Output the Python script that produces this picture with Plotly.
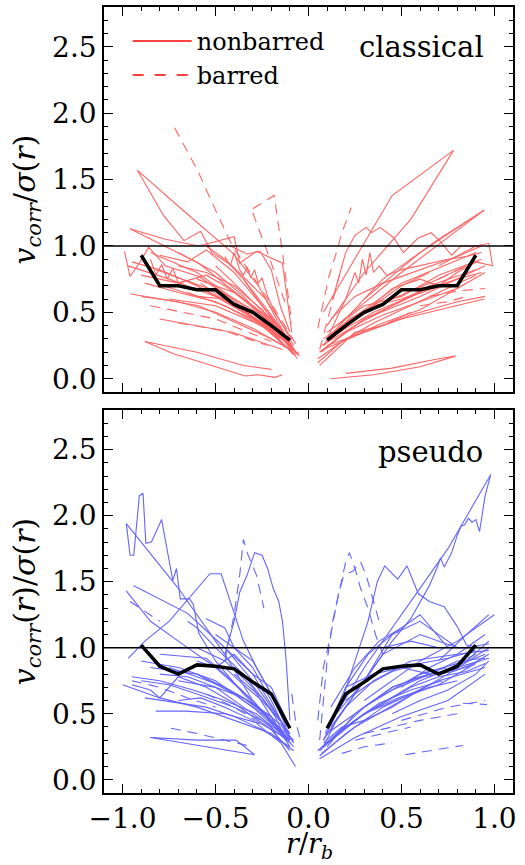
import plotly.graph_objects as go

FONT = "DejaVu Serif"
CL_COLOR = "#ff6464"
PS_COLOR = "#6464ff"

# ---------------- data ----------------
median_r = [0.1, 0.2, 0.3, 0.4, 0.5, 0.6, 0.7, 0.8, 0.9]
classical_median = [0.29, 0.40, 0.50, 0.56, 0.67, 0.67, 0.70, 0.70, 0.93]
pseudo_median = [0.39, 0.65, 0.74, 0.84, 0.86, 0.87, 0.80, 0.86, 1.02]

classical_neg_solid = [
    ([-0.92, -0.78, -0.67, -0.58, -0.52, -0.41, -0.23, -0.09], [1.57, 1.23, 1.04, 1.11, 0.95, 0.85, 0.60, 0.30]),
    ([-0.92, -0.66, -0.41, -0.27, -0.07], [1.57, 1.25, 0.95, 0.70, 0.19]),
    ([-0.96, -0.77, -0.59, -0.40, -0.37, -0.28, -0.14, -0.09], [1.13, 1.05, 1.00, 1.07, 0.87, 0.96, 0.87, 0.35]),
    ([-0.96, -0.59, -0.23, -0.05], [1.13, 0.87, 0.47, 0.17]),
    ([-0.99, -0.96, -0.91, -0.86, -0.77, -0.59, -0.41, -0.12], [0.96, 0.77, 0.87, 0.99, 0.85, 0.77, 0.60, 0.24]),
    ([-0.96, -0.59, -0.23, -0.05], [0.64, 0.55, 0.32, 0.19]),
    ([-0.80, -0.41, -0.14], [0.45, 0.35, 0.22]),
    ([-0.88, -0.73, -0.59, -0.45, -0.34, -0.27, -0.18, -0.14], [0.28, 0.19, 0.13, 0.07, 0.02, 0.03, 0.01, 0.03]),
    ([-0.88, -0.60, -0.35, -0.20], [0.28, 0.20, 0.10, 0.07]),
    ([-0.85, -0.60, -0.30, -0.08], [0.95, 0.80, 0.50, 0.22]),
    ([-0.85, -0.82, -0.79, -0.76, -0.73, -0.70, -0.65, -0.55, -0.40, -0.20, -0.07], [0.90, 0.78, 0.86, 0.75, 0.83, 0.72, 0.74, 0.66, 0.55, 0.38, 0.20]),
    ([-0.90, -0.70, -0.50, -0.30, -0.10], [0.62, 0.58, 0.50, 0.38, 0.22]),
    ([-0.75, -0.50, -0.30, -0.12], [0.60, 0.55, 0.43, 0.30]),
    ([-0.70, -0.50, -0.35, -0.10], [0.95, 0.80, 0.62, 0.25]),
    ([-0.45, -0.42, -0.40, -0.37, -0.35, -0.33, -0.31, -0.29, -0.27, -0.25, -0.22, -0.18, -0.13, -0.08], [0.92, 0.85, 0.95, 0.82, 0.78, 0.84, 0.76, 0.82, 0.72, 0.76, 0.62, 0.50, 0.38, 0.25]),
    ([-0.78, -0.60, -0.45, -0.30, -0.15], [0.70, 0.62, 0.60, 0.50, 0.30]),
    ([-0.65, -0.45, -0.25, -0.07], [0.65, 0.55, 0.40, 0.18]),
    ([-0.60, -0.40, -0.20, -0.06], [0.75, 0.65, 0.42, 0.15]),
    ([-0.90, -0.70, -0.55, -0.45, -0.20, -0.07], [0.78, 0.72, 0.78, 0.70, 0.45, 0.20]),
    ([-0.80, -0.65, -0.55, -0.40, -0.25, -0.10], [0.93, 0.88, 0.97, 0.80, 0.55, 0.28]),
    ([-0.55, -0.45, -0.35, -0.25, -0.15, -0.08], [1.00, 0.90, 0.75, 0.55, 0.38, 0.22]),
    ([-0.42, -0.33, -0.26, -0.20, -0.15, -0.10], [1.00, 0.94, 0.96, 0.82, 0.54, 0.35]),
    ([-0.97, -0.75, -0.50, -0.25, -0.09], [0.85, 0.75, 0.62, 0.42, 0.25]),
    ([-0.70, -0.55, -0.40, -0.25, -0.12], [0.85, 0.80, 0.70, 0.52, 0.30]),
    ([-0.88, -0.70, -0.50, -0.30, -0.12], [0.72, 0.65, 0.58, 0.45, 0.28]),
    ([-0.82, -0.62, -0.42, -0.22, -0.08], [0.82, 0.72, 0.62, 0.45, 0.22]),
    ([-0.95, -0.80, -0.60, -0.40, -0.20, -0.08], [0.88, 0.82, 0.70, 0.55, 0.36, 0.18]),
    ([-0.58, -0.48, -0.38, -0.28, -0.18, -0.09], [0.72, 0.62, 0.55, 0.45, 0.32, 0.20]),
    ([-0.50, -0.40, -0.30, -0.20, -0.10], [0.85, 0.72, 0.58, 0.45, 0.25]),
    ([-0.35, -0.28, -0.20, -0.12, -0.06], [0.75, 0.62, 0.48, 0.32, 0.18]),
]
classical_neg_dashed = [
    ([-0.72, -0.59, -0.52, -0.41, -0.30, -0.18, -0.05], [1.89, 1.55, 1.33, 1.00, 0.77, 0.52, 0.22]),
    ([-0.30, -0.185, -0.14, -0.09], [1.28, 1.38, 0.95, 0.42]),
    ([-0.30, -0.22, -0.12], [1.25, 0.95, 0.55]),
    ([-0.85, -0.50, -0.20], [0.55, 0.45, 0.28]),
    ([-0.70, -0.45, -0.22], [0.42, 0.36, 0.25]),
]
classical_pos_solid = [
    ([0.08, 0.45, 0.78], [0.50, 1.38, 1.72]),
    ([0.78, 0.55, 0.30, 0.10], [1.72, 1.20, 0.80, 0.40]),
    ([0.13, 0.20, 0.25, 0.31, 0.34, 0.385, 0.46, 0.51, 0.59, 0.66, 0.71, 0.77, 0.82, 0.91], [0.60, 0.95, 1.08, 1.14, 1.10, 1.14, 1.06, 0.95, 1.06, 1.10, 1.03, 0.93, 1.00, 1.00]),
    ([0.10, 0.40, 0.70, 0.945], [0.30, 0.75, 1.05, 1.27]),
    ([0.15, 0.50, 0.945], [0.40, 0.80, 1.27]),
    ([0.30, 0.60, 0.945], [0.60, 0.95, 1.27]),
    ([0.10, 0.50, 0.945], [0.25, 0.45, 0.60]),
    ([0.12, 0.35, 0.60, 0.79], [0.00, 0.03, 0.09, 0.17]),
    ([0.20, 0.45, 0.70, 0.79], [0.04, 0.08, 0.15, 0.17]),
    ([0.08, 0.50, 0.90], [0.30, 0.72, 0.95]),
    ([0.06, 0.30, 0.60, 0.95], [0.20, 0.45, 0.62, 0.85]),
    ([0.10, 0.20, 0.25, 0.27, 0.29, 0.31, 0.33, 0.35, 0.38, 0.42, 0.50, 0.60, 0.75, 0.85, 0.93], [0.30, 0.60, 0.80, 0.72, 0.90, 0.78, 0.95, 0.80, 0.85, 0.78, 0.82, 0.85, 0.90, 0.92, 0.95]),
    ([0.70, 0.90, 0.97, 0.99, 0.90, 0.80], [0.85, 1.00, 1.02, 0.85, 0.88, 0.80]),
    ([0.07, 0.25, 0.45, 0.65, 0.90], [0.25, 0.40, 0.55, 0.70, 0.82]),
    ([0.08, 0.30, 0.55, 0.80, 0.95], [0.22, 0.35, 0.48, 0.58, 0.62]),
    ([0.09, 0.20, 0.35, 0.55, 0.75], [0.28, 0.38, 0.50, 0.62, 0.72]),
    ([0.05, 0.20, 0.40, 0.60, 0.85], [0.15, 0.30, 0.42, 0.52, 0.72]),
    ([0.10, 0.30, 0.50, 0.70, 0.93], [0.35, 0.55, 0.62, 0.78, 0.90]),
    ([0.15, 0.30, 0.45, 0.60, 0.70, 0.80], [0.35, 0.50, 0.68, 0.75, 0.70, 0.80]),
    ([0.06, 0.15, 0.25, 0.40, 0.55], [0.10, 0.22, 0.35, 0.40, 0.50]),
    ([0.12, 0.25, 0.40, 0.60, 0.80, 0.93], [0.45, 0.62, 0.72, 0.82, 0.92, 1.00]),
    ([0.35, 0.50, 0.65, 0.80, 0.93], [0.55, 0.60, 0.68, 0.75, 0.80]),
    ([0.06, 0.20, 0.40, 0.60, 0.80, 0.95], [0.20, 0.35, 0.48, 0.58, 0.68, 0.80]),
    ([0.08, 0.25, 0.45, 0.65, 0.85], [0.25, 0.45, 0.60, 0.72, 0.85]),
    ([0.07, 0.15, 0.30, 0.45, 0.60], [0.20, 0.30, 0.45, 0.55, 0.65]),
    ([0.05, 0.18, 0.35, 0.50, 0.70, 0.90], [0.12, 0.28, 0.42, 0.52, 0.65, 0.78]),
    ([0.10, 0.22, 0.35, 0.50, 0.65], [0.30, 0.45, 0.55, 0.70, 0.80]),
]
classical_pos_dashed = [
    ([0.05, 0.11, 0.15, 0.18, 0.23], [0.38, 0.77, 0.95, 1.10, 1.29]),
    ([0.06, 0.14, 0.18], [0.22, 0.65, 0.85]),
    ([0.65, 0.80, 0.95], [0.62, 0.66, 0.68]),
    ([0.70, 0.85, 0.95], [0.75, 0.85, 0.90]),
    ([0.60, 0.75, 0.85], [0.55, 0.58, 0.62]),
]

pseudo_neg_solid = [
    ([-0.98, -0.96, -0.94, -0.91, -0.89, -0.875, -0.845, -0.79, -0.755, -0.73, -0.71, -0.69, -0.64, -0.62, -0.59, -0.50, -0.35, -0.20, -0.08],
     [1.94, 1.70, 1.70, 2.15, 2.17, 1.79, 1.80, 1.97, 1.70, 1.51, 1.60, 1.37, 1.37, 1.33, 1.11, 0.90, 0.65, 0.45, 0.25]),
    ([-0.98, -0.70, -0.60, -0.45, -0.30, -0.12], [1.94, 1.45, 1.25, 0.95, 0.60, 0.30]),
    ([-0.98, -0.85, -0.70, -0.50, -0.30, -0.10], [1.43, 1.20, 1.05, 0.85, 0.60, 0.30]),
    ([-0.94, -0.65, -0.45, -0.30, -0.10], [1.47, 1.26, 1.00, 0.75, 0.35]),
    ([-0.97, -0.88, -0.75, -0.53, -0.47, -0.39, -0.35, -0.28, -0.18, -0.10], [0.92, 1.05, 1.20, 1.56, 1.56, 1.23, 1.05, 0.85, 0.60, 0.40]),
    ([-0.45, -0.40, -0.37, -0.33, -0.29, -0.25, -0.22, -0.19, -0.16, -0.14, -0.12, -0.10], [0.95, 1.20, 1.42, 1.55, 1.72, 1.70, 1.60, 1.45, 1.35, 1.20, 0.90, 0.45]),
    ([-1.00, -0.80, -0.60, -0.40, -0.20, -0.08], [0.72, 0.62, 0.55, 0.45, 0.35, 0.22]),
    ([-0.82, -0.66, -0.45, -0.25, -0.10], [0.52, 0.52, 0.50, 0.42, 0.30]),
    ([-0.85, -0.60, -0.39, -0.29, -0.55, -0.85], [0.32, 0.30, 0.30, 0.19, 0.25, 0.32]),
    ([-0.90, -0.70, -0.50, -0.30, -0.10], [0.90, 0.85, 0.75, 0.55, 0.30]),
    ([-0.85, -0.60, -0.40, -0.20, -0.08], [0.85, 0.80, 0.65, 0.45, 0.30]),
    ([-0.80, -0.55, -0.45, -0.30, -0.15], [0.95, 0.92, 0.80, 0.60, 0.35]),
    ([-0.75, -0.60, -0.45, -0.30, -0.10], [1.00, 1.00, 0.90, 0.70, 0.25]),
    ([-0.65, -0.60, -0.50, -0.35, -0.10], [1.20, 1.15, 1.00, 0.80, 0.35]),
    ([-0.70, -0.50, -0.35, -0.20, -0.07], [0.75, 0.70, 0.55, 0.40, 0.10]),
    ([-0.95, -0.85, -0.80, -0.70, -0.55, -0.40, -0.20, -0.10], [0.72, 0.68, 0.62, 0.78, 0.70, 0.58, 0.38, 0.22]),
    ([-0.60, -0.50, -0.40, -0.30, -0.20, -0.15, -0.10], [0.90, 0.85, 0.95, 0.80, 0.70, 0.55, 0.40]),
    ([-0.50, -0.40, -0.30, -0.20, -0.12], [1.10, 1.00, 0.90, 0.65, 0.40]),
    ([-0.85, -0.60, -0.45, -0.30, -0.15], [1.00, 1.00, 1.00, 0.80, 0.45]),
    ([-0.55, -0.45, -0.40, -0.30, -0.20, -0.10], [1.22, 1.15, 1.00, 0.85, 0.60, 0.30]),
    ([-0.90, -0.75, -0.60, -0.40, -0.25, -0.10], [0.75, 0.72, 0.65, 0.55, 0.45, 0.28]),
    ([-0.80, -0.65, -0.50, -0.35, -0.20, -0.12], [0.80, 0.78, 0.70, 0.62, 0.48, 0.30]),
    ([-0.40, -0.32, -0.25, -0.18, -0.12], [0.80, 0.70, 0.62, 0.48, 0.30]),
    ([-0.70, -0.58, -0.45, -0.30, -0.15], [0.60, 0.62, 0.55, 0.45, 0.28]),
    ([-0.88, -0.70, -0.55, -0.40, -0.25, -0.10], [0.62, 0.58, 0.55, 0.48, 0.38, 0.25]),
    ([-0.75, -0.60, -0.45, -0.30, -0.15, -0.08], [0.85, 0.78, 0.70, 0.58, 0.42, 0.28]),
    ([-0.60, -0.48, -0.35, -0.22, -0.10], [0.80, 0.72, 0.62, 0.48, 0.30]),
    ([-0.45, -0.35, -0.25, -0.15, -0.08], [0.85, 0.72, 0.60, 0.45, 0.28]),
    ([-0.95, -0.80, -0.62, -0.45, -0.28, -0.12], [0.78, 0.75, 0.68, 0.60, 0.50, 0.32]),
]
pseudo_neg_dashed = [
    ([-0.45, -0.40, -0.37, -0.35, -0.33, -0.28, -0.24], [0.90, 1.25, 1.55, 1.82, 1.72, 1.55, 1.30]),
    ([-0.09, -0.07, -0.04], [0.65, 0.45, 0.28]),
    ([-0.74, -0.60, -0.45, -0.30], [0.39, 0.35, 0.30, 0.25]),
    ([-0.95, -0.80, -0.65, -0.50], [0.75, 0.70, 0.62, 0.55]),
    ([-0.96, -0.80], [1.35, 1.20]),
    ([-0.55, -0.40, -0.25], [0.65, 0.55, 0.42]),
]
pseudo_pos_solid = [
    ([0.08, 0.15, 0.25, 0.35, 0.45, 0.55, 0.60, 0.65, 0.69, 0.71, 0.73, 0.77, 0.80, 0.82, 0.84, 0.86, 0.88, 0.90, 0.92, 0.95, 0.98],
     [0.25, 0.45, 0.65, 0.85, 1.05, 1.22, 1.35, 1.47, 1.60, 1.68, 1.61, 1.72, 1.85, 1.92, 1.93, 1.98, 1.95, 1.97, 1.88, 2.15, 2.31]),
    ([0.08, 0.15, 0.30, 0.50, 0.75, 0.98], [0.30, 0.50, 0.85, 1.25, 1.75, 2.31]),
    ([0.18, 0.25, 0.32, 0.37, 0.41, 0.48, 0.53, 0.59, 0.65, 0.73, 0.80, 0.85, 0.93], [0.60, 0.90, 1.20, 1.50, 1.62, 1.52, 1.62, 1.41, 1.35, 1.31, 1.16, 1.02, 1.00]),
    ([0.30, 0.60, 0.80, 1.00], [0.60, 0.90, 1.05, 1.25]),
    ([0.08, 0.30, 0.60, 0.95], [0.25, 0.50, 0.75, 0.95]),
    ([0.07, 0.25, 0.50, 0.75, 0.97], [0.20, 0.40, 0.60, 0.80, 1.00]),
    ([0.10, 0.35, 0.60, 0.85, 0.97], [0.35, 0.60, 0.80, 0.90, 1.05]),
    ([0.06, 0.20, 0.40, 0.70, 0.95], [0.18, 0.35, 0.55, 0.75, 0.85]),
    ([0.08, 0.20, 0.35, 0.55, 0.80, 0.97], [0.30, 0.55, 0.75, 0.90, 0.95, 0.98]),
    ([0.12, 0.25, 0.40, 0.60, 0.80], [0.40, 0.65, 0.95, 1.10, 1.00]),
    ([0.15, 0.30, 0.45, 0.60, 0.80, 0.95], [0.50, 0.75, 1.10, 1.20, 1.00, 1.00]),
    ([0.05, 0.15, 0.30, 0.50, 0.70, 0.90], [0.22, 0.35, 0.50, 0.62, 0.72, 0.88]),
    ([0.10, 0.25, 0.45, 0.65, 0.85, 0.97], [0.25, 0.50, 0.70, 0.80, 0.85, 0.95]),
    ([0.09, 0.20, 0.32, 0.45, 0.60, 0.75], [0.35, 0.70, 0.95, 1.10, 1.25, 1.00]),
    ([0.20, 0.35, 0.50, 0.65, 0.80, 0.95], [0.70, 0.80, 0.85, 0.80, 0.90, 0.92]),
    ([0.08, 0.18, 0.30, 0.45, 0.62], [0.28, 0.40, 0.45, 0.55, 0.70]),
    ([0.06, 0.25, 0.50, 0.75, 0.95], [0.16, 0.32, 0.48, 0.60, 0.80]),
    ([0.40, 0.55, 0.70, 0.85, 0.97], [1.00, 1.05, 1.00, 1.00, 1.03]),
    ([0.12, 0.25, 0.38, 0.50], [0.55, 0.85, 1.05, 1.15]),
    ([0.30, 0.45, 0.60, 0.80, 0.97], [0.55, 0.70, 0.78, 0.85, 0.92]),
    ([0.45, 0.60, 0.75, 0.90, 0.97], [0.50, 0.60, 0.68, 0.80, 0.90]),
    ([0.70, 0.85, 0.97], [0.90, 1.10, 1.25]),
    ([0.50, 0.65, 0.80, 0.95], [0.70, 0.85, 0.95, 1.10]),
    ([0.10, 0.25, 0.40, 0.55, 0.70, 0.85, 0.95], [0.28, 0.45, 0.58, 0.70, 0.78, 0.82, 0.88]),
    ([0.06, 0.18, 0.32, 0.48, 0.65, 0.80], [0.22, 0.38, 0.52, 0.62, 0.70, 0.75]),
    ([0.15, 0.30, 0.45, 0.62, 0.78, 0.92], [0.35, 0.55, 0.68, 0.78, 0.82, 0.90]),
    ([0.08, 0.22, 0.38, 0.55, 0.72], [0.25, 0.42, 0.58, 0.68, 0.75]),
    ([0.20, 0.32, 0.45, 0.60, 0.75, 0.90], [0.60, 0.72, 0.82, 0.88, 0.92, 0.98]),
]
pseudo_pos_dashed = [
    ([0.06, 0.08, 0.10, 0.13, 0.17, 0.20, 0.22, 0.25, 0.28, 0.32, 0.36, 0.40], [0.30, 0.60, 0.90, 1.20, 1.45, 1.65, 1.72, 1.60, 1.45, 1.30, 1.10, 0.95]),
    ([0.05, 0.08, 0.12, 0.16, 0.19, 0.24, 0.28, 0.31, 0.34, 0.38], [0.45, 0.85, 1.10, 1.40, 1.55, 1.58, 1.65, 1.55, 1.40, 1.20]),
    ([0.50, 0.75, 0.95], [0.45, 0.55, 0.60]),
    ([0.30, 0.60, 0.80], [0.35, 0.45, 0.50]),
    ([0.52, 0.65, 0.83], [0.19, 0.22, 0.26]),
    ([0.18, 0.30, 0.45], [0.20, 0.25, 0.28]),
    ([0.83, 0.96], [0.58, 0.57]),
    ([0.25, 0.40, 0.55], [0.30, 0.35, 0.40]),
    ([0.60, 0.75, 0.90], [0.80, 0.85, 0.95]),
]

x_tickvals = [-1.0, -0.5, 0.0, 0.5, 1.0]
x_ticktext = ["\u22121.0", "\u22120.5", "0.0", "0.5", "1.0"]
y_tickvals = [0.0, 0.5, 1.0, 1.5, 2.0, 2.5]

# ---------------- figure ----------------
fig = go.Figure()
DASH = "10px,7px"


def add_lines(lines, color, dash, xa, ya):
    for xs, ys in lines:
        fig.add_trace(go.Scatter(x=xs, y=ys, mode="lines", xaxis=xa, yaxis=ya,
                                 line=dict(color=color, width=1.1, dash=dash),
                                 showlegend=False, hoverinfo="skip"))


add_lines(classical_neg_solid, CL_COLOR, "solid", "x", "y")
add_lines(classical_pos_solid, CL_COLOR, "solid", "x", "y")
add_lines(classical_neg_dashed, CL_COLOR, DASH, "x", "y")
add_lines(classical_pos_dashed, CL_COLOR, DASH, "x", "y")
add_lines(pseudo_neg_solid, PS_COLOR, "solid", "x2", "y2")
add_lines(pseudo_pos_solid, PS_COLOR, "solid", "x2", "y2")
add_lines(pseudo_neg_dashed, PS_COLOR, DASH, "x2", "y2")
add_lines(pseudo_pos_dashed, PS_COLOR, DASH, "x2", "y2")

neg_r = [-r for r in reversed(median_r)]
for med, xa, ya in [(classical_median, "x", "y"), (pseudo_median, "x2", "y2")]:
    fig.add_trace(go.Scatter(x=neg_r, y=list(reversed(med)), mode="lines", xaxis=xa, yaxis=ya,
                             line=dict(color="black", width=3.5), showlegend=False, hoverinfo="skip"))
    fig.add_trace(go.Scatter(x=median_r, y=med, mode="lines", xaxis=xa, yaxis=ya,
                             line=dict(color="black", width=3.5), showlegend=False, hoverinfo="skip"))

# legend entries
fig.add_trace(go.Scatter(x=[None], y=[None], mode="lines", name="nonbarred",
                         line=dict(color="#ff0000", width=1.5), xaxis="x", yaxis="y"))
fig.add_trace(go.Scatter(x=[None], y=[None], mode="lines", name="barred",
                         line=dict(color="#ff0000", width=1.5, dash="11px,11px"), xaxis="x", yaxis="y"))

for yr in ["y", "y2"]:
    fig.add_shape(type="line", xref="x domain" if yr == "y" else "x2 domain", yref=yr,
                  x0=0, x1=1, y0=1.0, y1=1.0, line=dict(color="black", width=1.5))

axis_common = dict(showgrid=False, zeroline=False, showline=True, linecolor="black", linewidth=1.5,
                   mirror="ticks", ticks="inside", ticklen=9, tickwidth=1.2, tickcolor="black",
                   automargin=False,
                   tickfont=dict(family=FONT, size=28, color="black"))
minor = dict(ticks="inside", ticklen=4, tickwidth=1, tickcolor="black", showgrid=False)

fig.update_layout(
    width=525, height=865,
    margin=dict(l=104, r=12, t=7, b=72),
    paper_bgcolor="white", plot_bgcolor="white",
    font=dict(family=FONT, color="black"),
    xaxis=dict(domain=[0, 1], anchor="y", range=[-1.1, 1.1], tickvals=x_tickvals, showticklabels=False,
               minor=dict(dtick=0.1, tick0=0, **minor), matches="x2", **axis_common),
    yaxis=dict(domain=[0.5102, 1.0], anchor="x", range=[-0.1, 2.8], tickvals=y_tickvals, tickformat=".1f",
               minor=dict(dtick=0.1, tick0=0, **minor),
               title=dict(text="<i>v</i><sub><i>corr</i></sub>/<i>σ</i>(<i>r</i>)", font=dict(size=30, family=FONT), standoff=8),
               **axis_common),
    xaxis2=dict(domain=[0, 1], anchor="y2", range=[-1.1, 1.1], tickvals=x_tickvals, ticktext=x_ticktext,
                minor=dict(dtick=0.1, tick0=0, **minor), **axis_common),
    yaxis2=dict(domain=[0, 0.4873], anchor="x2", range=[-0.1, 2.8], tickvals=y_tickvals, tickformat=".1f",
                minor=dict(dtick=0.1, tick0=0, **minor),
                title=dict(text="<i>v</i><sub><i>corr</i></sub>(<i>r</i>)/<i>σ</i>(<i>r</i>)", font=dict(size=30, family=FONT), standoff=8),
                **axis_common),
    legend=dict(x=0.058, y=0.985, xanchor="left", yanchor="top", bgcolor="rgba(0,0,0,0)",
                font=dict(family=FONT, size=24, color="black"), itemwidth=59, tracegroupgap=0),
    annotations=[
        dict(text="classical", x=0.955, y=2.5, xref="x", yref="y", xanchor="right", yanchor="middle",
             showarrow=False, font=dict(family=FONT, size=29, color="black")),
        dict(text="pseudo", x=0.95, y=2.48, xref="x2", yref="y2", xanchor="right", yanchor="middle",
             showarrow=False, font=dict(family=FONT, size=29, color="black")),
        dict(text="<i>r</i>/<i>r</i><sub><i>b</i></sub>", x=0.502, y=-0.067, xref="paper", yref="paper",
             xanchor="center", yanchor="middle", showarrow=False,
             font=dict(family=FONT, size=27, color="black")),
    ],
)

fig.write_html("out.html", config={"displayModeBar": False},
               post_script="document.body.style.margin='0';document.body.style.padding='0';")
